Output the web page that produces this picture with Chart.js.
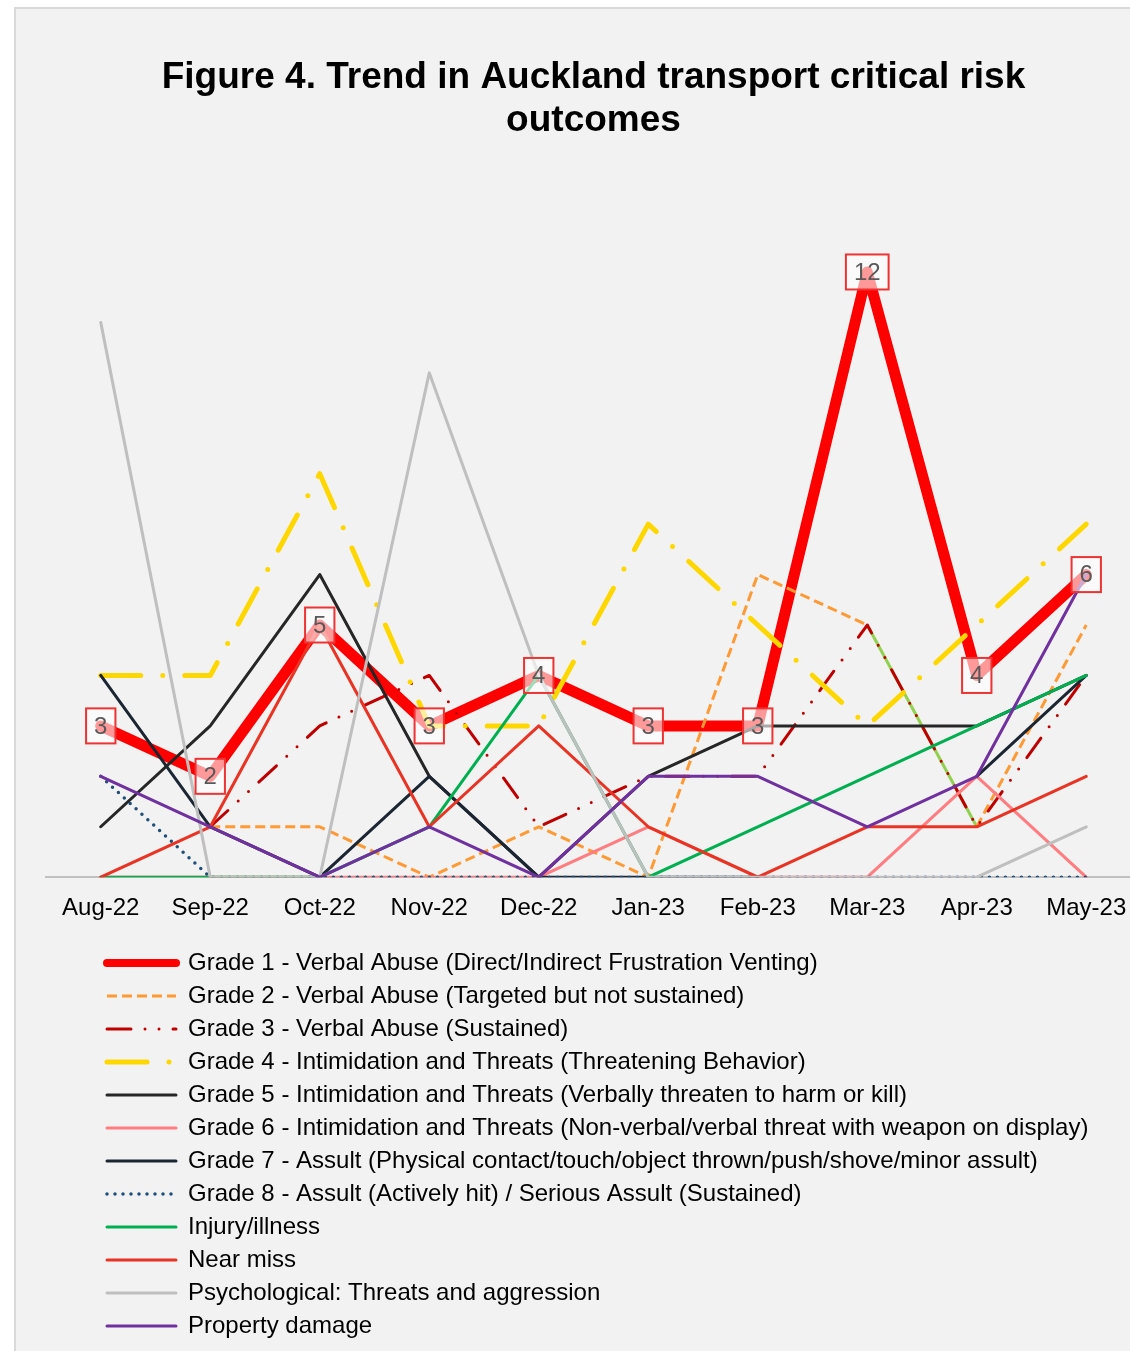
<!DOCTYPE html>
<html>
<head>
<meta charset="utf-8">
<script src="https://cdn.jsdelivr.net/npm/chart.js@4.4.1/dist/chart.umd.min.js"></script>
<style>
    body{margin:0;background:#fff;overflow:hidden;}
    #panel{position:absolute;left:14px;top:7px;width:1200px;height:1400px;border:2px solid #d9d9d9;background:#f2f2f2;}
    #chartMain{position:absolute;left:0;top:0;}
    #chartLegend{position:absolute;left:0;top:931px;}
</style>
</head>
<body>
<div id="panel">
    <canvas id="chartMain" width="1155" height="931"></canvas>
    <canvas id="chartLegend" width="1155" height="440"></canvas>
</div>
<script>
const months=['Aug-22','Sep-22','Oct-22','Nov-22','Dec-22','Jan-23','Feb-23','Mar-23','Apr-23','May-23'];

const grade1=[3,2,5,3,4,3,3,12,4,6];
const grade2=[null,1,1,0,1,0,6,5,1,5];
const grade3=[null,1,3,4,1,2,2,5,1,4];
const grade4=[4,4,8,3,3,7,5,3,5,7];
const grade5=[1,3,6,2,0,2,3,3,3,4];
const grade6=[0,0,0,0,0,1,0,0,2,0];
const grade7=[4,1,0,2,0,0,0,null,2,4];
const grade8=[2,0,0,0,0,0,0,0,0,0];
const injury=[0,0,0,1,4,0,1,2,3,4];
const nearMiss=[0,1,5,1,3,1,0,1,1,2];
const psych=[11,0,0,10,4,0,0,0,0,1];
const property=[2,1,0,1,0,2,2,1,2,6];

const font='"Liberation Sans", Arial, sans-serif';

// one entry per series, same order as the legend
const series=[
    {label:'Grade 1 - Verbal Abuse (Direct/Indirect Frustration Venting)',data:grade1,color:'#ff0000',width:11,dash:[]},
    {label:'Grade 2 - Verbal Abuse (Targeted but not sustained)',data:grade2,color:'#ff9933',width:3,dash:[10,5],cap:'butt'},
    {label:'Grade 3 - Verbal Abuse (Sustained)',data:grade3,color:'#c00000',width:3,dash:[24,14,0,14,0,14]},
    {label:'Grade 4 - Intimidation and Threats (Threatening Behavior)',data:grade4,color:'#ffd700',width:5,dash:[40,22,0,22]},
    {label:'Grade 5 - Intimidation and Threats (Verbally threaten to harm or kill)',data:grade5,color:'#262626',width:3,dash:[]},
    {label:'Grade 6 - Intimidation and Threats (Non-verbal/verbal threat with weapon on display)',data:grade6,color:'#ff7c80',width:3,dash:[]},
    {label:'Grade 7 - Assult (Physical contact/touch/object thrown/push/shove/minor assult)',data:grade7,color:'#1c2633',width:3,dash:[]},
    {label:'Grade 8 - Assult (Actively hit) / Serious Assult (Sustained)',data:grade8,color:'#1f4e79',width:3.5,dash:[0,8]},
    {label:'Injury/illness',data:injury,color:'#00b050',width:3,dash:[]},
    {label:'Near miss',data:nearMiss,color:'#ea3323',width:3,dash:[]},
    {label:'Psychological: Threats and aggression',data:psych,color:'#bfbfbf',width:3,dash:[]},
    {label:'Property damage',data:property,color:'#7030a0',width:3,dash:[]}
];

function makeDatasets(withData){
    return series.map((s,i)=>{
        let ds={
            label:s.label,
            data:withData ? s.data : [],
            borderColor:s.color,
            backgroundColor:s.color,
            borderWidth:s.width,
            borderDash:s.dash,
            borderCapStyle:s.cap || 'round',
            borderJoinStyle:'round',
            pointRadius:0,
            pointHoverRadius:0,
            fill:false,
            spanGaps:false,
            order:-i   // later series on top, like the original
        };
        if(i==1){
            // Mar-23 to Apr-23 piece of grade 2 is drawn light green and solid
            ds.segment={
                borderColor:c=>c.p0DataIndex==7 ? '#92d050' : undefined,
                borderDash:c=>c.p0DataIndex==7 ? [] : undefined
            };
        }
        return ds;
    });
}

// boxed value labels on the grade 1 line
const gradeOneLabels={
    id:'gradeOneLabels',
    afterDatasetsDraw(chart){
        let meta=chart.getDatasetMeta(0);
        let ctx=chart.ctx;
        ctx.save();
        ctx.font='24px '+font;
        ctx.textAlign='center';
        ctx.textBaseline='middle';
        meta.data.forEach((pt,i)=>{
            let txt=String(grade1[i]);
            let w=ctx.measureText(txt).width+16;
            let h=35;
            ctx.fillStyle='rgba(255,255,255,0.6)';
            ctx.fillRect(pt.x-w/2,pt.y-h/2,w,h);
            ctx.strokeStyle='#ee3333';
            ctx.lineWidth=2;
            ctx.strokeRect(pt.x-w/2,pt.y-h/2,w,h);
            ctx.fillStyle='#595959';
            ctx.fillText(txt,pt.x,pt.y+1);
        });
        ctx.restore();
    }
};

new Chart(document.getElementById('chartMain'),{
    type:'line',
    data:{labels:months,datasets:makeDatasets(true)},
    options:{
        responsive:false,
        animation:false,
        layout:{padding:{left:30,right:30,top:0,bottom:0}},
        plugins:{
            legend:{display:false},
            tooltip:{enabled:false},
            title:{
                display:true,
                text:['Figure 4. Trend in Auckland transport critical risk','outcomes'],
                color:'#000',
                font:{family:font,size:37,weight:'bold',lineHeight:1.15},
                padding:{top:48,bottom:29}
            }
        },
        scales:{
            x:{
                offset:true,
                grid:{display:false,drawTicks:false},
                border:{display:true,color:'#c0c0c0',width:2},
                ticks:{color:'#000',font:{family:font,size:24},padding:17,maxRotation:0,autoSkip:false}
            },
            y:{
                display:false,
                min:0,
                max:14
            }
        }
    },
    plugins:[gradeOneLabels]
});

// legend as its own chart so every entry gets its own row
new Chart(document.getElementById('chartLegend'),{
    type:'line',
    data:{labels:[],datasets:makeDatasets(false)},
    options:{
        responsive:false,
        animation:false,
        layout:{padding:{left:82,top:2}},
        scales:{x:{display:false},y:{display:false}},
        plugins:{
            tooltip:{enabled:false},
            legend:{
                position:'left',
                align:'start',
                maxWidth:1100,
                labels:{
                    usePointStyle:true,
                    pointStyleWidth:69,
                    padding:9,
                    color:'#000',
                    font:{family:font,size:24},
                    generateLabels:(chart)=>chart.data.datasets.map((ds,i)=>({
                        text:ds.label,
                        fillStyle:ds.borderColor,
                        strokeStyle:ds.borderColor,
                        lineWidth:Math.min(ds.borderWidth,8),
                        lineDash:ds.borderDash,
                        lineCap:ds.borderCapStyle,
                        pointStyle:'line',
                        hidden:false,
                        datasetIndex:i
                    }))
                }
            }
        }
    }
});
</script>
</body>
</html>
